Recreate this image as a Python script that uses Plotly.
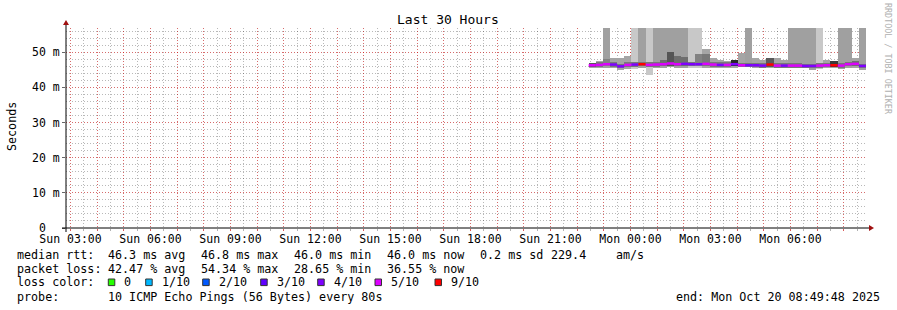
import plotly.graph_objects as go
import pandas as pd

# ---------------- data ----------------
END_TIME = "2025-10-20 08:49:48"
HOURS = 30
STEP_S = 960  # consolidated rrd step (seconds)

median_ms = [46.3, 46.4, 46.6, 46.5, 46.0, 46.4, 46.5, 46.6, 46.4, 46.5,
             46.6, 46.8, 46.6, 46.7, 46.6, 46.6, 46.7, 46.5, 46.4, 46.4,
             46.6, 46.3, 46.3, 46.3, 46.2, 46.5, 46.2, 46.2, 46.2, 46.2,
             46.1, 46.1, 46.2, 46.3, 46.3, 46.2, 46.6, 46.7, 46.1]
loss_tenths = [5, 5, 5, 4, 4, 5, 4, 10, 5, 5,
               5, 5, 5, 4, 4, 4, 5, 5, 4, 5,
               4, 5, 4, 4, 4, 10, 5, 4, 5, 5,
               4, 4, 5, 5, 10, 5, 5, 5, 4]
smoke_hi = [47.0, 47.5, 58.0, 48.3, 48.5, 49.0, 58.0, 58.0, 58.0, 58.0,
            58.0, 58.0, 58.0, 58.0, 58.0, 58.0, 50.9, 48.4, 47.8, 47.4,
            47.8, 49.8, 58.0, 48.5, 47.8, 48.2, 48.5, 47.8, 58.0, 58.0,
            58.0, 58.0, 58.0, 47.8, 47.5, 58.0, 58.0, 48.3, 58.0]
smoke_lo = [45.6, 45.6, 45.6, 45.6, 45.0, 45.2, 45.2, 45.4, 43.5, 45.6,
            45.6, 45.7, 45.5, 45.6, 45.5, 45.5, 45.5, 45.5, 45.5, 45.5,
            45.6, 45.9, 45.9, 45.6, 45.6, 45.6, 45.5, 45.6, 45.5, 45.5,
            45.4, 45.0, 45.2, 45.5, 45.4, 45.3, 45.5, 45.6, 45.0]
smoke_gray = [165, 165, 160, 165, 165, 165, 200, 160, 200, 160,
              160, 160, 160, 160, 200, 200, 165, 165, 165, 165,
              165, 165, 160, 165, 165, 165, 165, 165, 160, 160,
              160, 160, 200, 165, 165, 160, 160, 165, 160]
core_lo = [45.8, 45.8, 46.0, 45.9, 45.4, 45.8, 45.9, 46.0, 45.8, 45.9,
           46.0, 46.2, 46.0, 46.1, 46.0, 46.0, 46.1, 45.9, 45.8, 45.8,
           46.0, 45.7, 45.7, 45.7, 45.6, 45.9, 45.6, 45.6, 45.6, 45.6,
           45.5, 45.5, 45.6, 45.7, 45.7, 45.6, 46.0, 46.1, 45.5]
core_hi = [47.0, 47.1, 48.0, 47.2, 46.7, 47.1, 47.2, 47.3, 47.1, 47.2,
           47.8, 50.1, 48.8, 48.6, 47.3, 49.4, 49.6, 47.2, 47.1, 47.1,
           47.8, 47.0, 47.0, 47.0, 46.9, 48.3, 46.9, 46.9, 46.9, 46.9,
           46.8, 46.8, 46.9, 47.0, 47.5, 46.9, 47.3, 47.4, 46.8]
core_gray = [90, 120, 130, 120, 120, 120, 120, 120, 120, 120,
             110, 85, 110, 110, 120, 130, 120, 120, 120, 120,
             40, 120, 120, 120, 120, 90, 120, 120, 120, 120,
             120, 120, 120, 120, 60, 120, 120, 110, 120]

loss_levels = [0, 1, 2, 3, 4, 5, 10]
loss_labels = ["0", "1/10", "2/10", "3/10", "4/10", "5/10", "9/10"]
loss_colors = ["#26ff00", "#00b8ff", "#0059ff", "#5e00ff", "#7e00ff", "#dd00ff", "#ff0000"]

y_tick_vals = [0, 10, 20, 30, 40, 50]
y_tick_text = ["0\u00a0\u00a0", "10 m", "20 m", "30 m", "40 m", "50 m"]

stats_rtt = ["46.3 ms avg", "46.8 ms max", "46.0 ms min", "46.0 ms now", "0.2 ms sd", "229.4", "am/s"]
stats_loss = ["42.47 % avg", "54.34 % max", "28.65 % min", "36.55 % now"]
probe_text = "10 ICMP Echo Pings (56 Bytes) every 80s"
end_text = "end: Mon Oct 20 08:49:48 2025"
title_text = "Last 30 Hours"

# ---------------- derived ----------------
end = pd.Timestamp(END_TIME)
start = end - pd.Timedelta(hours=HOURS)
n = len(median_ms)
bin_start = [end - pd.Timedelta(seconds=STEP_S * (n - k)) for k in range(n)]
bin_end = [t + pd.Timedelta(seconds=STEP_S) for t in bin_start]
bin_mid = [t + pd.Timedelta(seconds=STEP_S / 2) for t in bin_start]
W = STEP_S * 1000

def g(v):
    return "rgb(%d,%d,%d)" % (v, v, v)

fig = go.Figure()
fig.add_trace(go.Bar(x=bin_mid, y=[h - l for h, l in zip(smoke_hi, smoke_lo)], base=smoke_lo,
                     width=[W] * n, marker=dict(color=[g(v) for v in smoke_gray], line=dict(width=0)),
                     showlegend=False, hoverinfo="skip"))
fig.add_trace(go.Bar(x=bin_mid, y=[h - l for h, l in zip(core_hi, core_lo)], base=core_lo,
                     width=[W] * n, marker=dict(color=[g(v) for v in core_gray], line=dict(width=0)),
                     showlegend=False, hoverinfo="skip"))
for lvl, col in zip(loss_levels, loss_colors):
    xs, ys = [], []
    for k in range(n):
        if loss_tenths[k] == lvl:
            xs += [bin_start[k], bin_end[k], None]
            ys += [median_ms[k], median_ms[k], None]
    if xs:
        fig.add_trace(go.Scatter(x=xs, y=ys, mode="lines", line=dict(color=col, width=2.5),
                                 showlegend=False, hoverinfo="skip", connectgaps=False))

hours = pd.date_range(start.ceil("h"), end.floor("h"), freq="h")
x_tick_text = [t.strftime("%a %H:%M") if t.hour % 3 == 0 else "" for t in hours]

MONO = "DejaVu Sans Mono"
L, R, T, B = 66, 31, 28, 82
PW, PH = 897 - L - R, 310 - T - B
RED_GRID = "rgba(255,0,0,0.42)"
GRAY_GRID = "rgba(0,0,0,0.28)"
DASH = "1px,2px"

fig.update_layout(
    width=897, height=310,
    margin=dict(l=L, r=R, t=T, b=B, pad=0),
    paper_bgcolor="white", plot_bgcolor="white",
    barmode="overlay", bargap=0,
    font=dict(family=MONO, size=11.7, color="black"),
    xaxis=dict(range=[start, end], type="date", tickvals=list(hours), ticktext=x_tick_text,
               showgrid=True, gridcolor=RED_GRID, griddash=DASH, gridwidth=1,
               ticks="outside", ticklen=2, tickcolor="rgba(255,0,0,0.5)",
               minor=dict(dtick=1800000, showgrid=True, gridcolor=GRAY_GRID, griddash=DASH,
                          ticks="outside", ticklen=2, tickcolor="rgba(0,0,0,0.3)"),
               showline=False, zeroline=False, tickfont=dict(family=MONO, size=11.5),
               ticklabelstandoff=-2, fixedrange=True),
    yaxis=dict(range=[0, 56.9], tickvals=y_tick_vals, ticktext=y_tick_text,
               showgrid=True, gridcolor=RED_GRID, griddash=DASH, gridwidth=1,
               ticks="outside", ticklen=3, tickcolor="#666",
               minor=dict(dtick=2, showgrid=True, gridcolor=GRAY_GRID, griddash=DASH),
               showline=False, zeroline=False, tickfont=dict(family=MONO, size=11.5),
               ticklabelstandoff=0, fixedrange=True),
)

def px(xp):
    return (xp - L) / PW

def py(yp):
    return (310 - B - yp) / PH

# axis lines & arrows
fig.add_shape(type="line", xref="paper", yref="paper", x0=px(62), x1=px(870), y0=py(228), y1=py(228),
              line=dict(color="black", width=1))
fig.add_shape(type="line", xref="paper", yref="paper", x0=px(66), x1=px(66), y0=py(232), y1=py(24),
              line=dict(color="black", width=1))
fig.add_shape(type="path", xref="paper", yref="paper",
              path="M %f %f L %f %f L %f %f Z" % (px(63), py(25), px(69), py(25), px(66), py(20)),
              fillcolor="#a01010", line=dict(width=0))
fig.add_shape(type="path", xref="paper", yref="paper",
              path="M %f %f L %f %f L %f %f Z" % (px(869), py(225), px(869), py(231), px(874), py(228)),
              fillcolor="#a01010", line=dict(width=0))

def txt(x, y, s, size=11.7, color="black", anchor="left", angle=0):
    fig.add_annotation(xref="paper", yref="paper", x=px(x), y=py(y), text=s.replace(" ", "\u00a0"),
                       showarrow=False, xanchor=anchor, yanchor="middle", textangle=angle,
                       font=dict(family=MONO, size=size, color=color), borderpad=0)

txt(448, 19, title_text, size=13, anchor="center")
txt(11.5, 126.5, "Seconds", anchor="center", angle=-90)
txt(888, 59, "RRDTOOL / TOBI OETIKER", size=8.4, color="#b0b0b0", anchor="center", angle=90)

row_y = [255, 268.5, 282.3, 296.5]
rtt_x = [107.3, 200, 292.7, 385.7, 479, 549.5, 614.5]
txt(16, row_y[0], "median rtt:")
for s, x in zip(stats_rtt, rtt_x):
    txt(x, row_y[0], s)
txt(16, row_y[1], "packet loss:")
for s, x in zip(stats_loss, rtt_x[:4]):
    txt(x, row_y[1], s)
txt(16, row_y[2], "loss color:")
box_x = [108.3, 145.7, 202.7, 260.7, 317.7, 375, 435]
for bx, lab, col in zip(box_x, loss_labels, loss_colors):
    fig.add_shape(type="rect", xref="paper", yref="paper", x0=px(bx), x1=px(bx + 6.5),
                  y0=py(row_y[2] + 3.3), y1=py(row_y[2] - 3.3),
                  fillcolor=col, line=dict(color="#333", width=1))
    txt(bx + 15, row_y[2], lab)
txt(16, row_y[3], "probe:")
txt(107.3, row_y[3], probe_text)
txt(880.5, row_y[3], end_text, anchor="right")

fig.write_html("out.html")
